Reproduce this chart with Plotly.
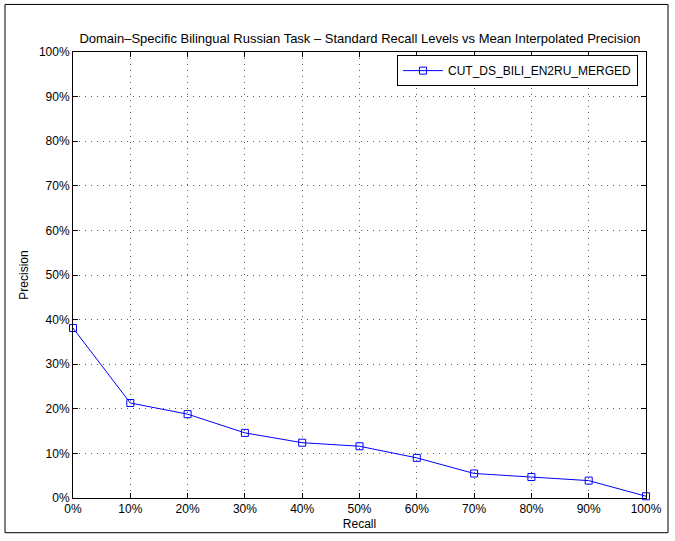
import plotly.graph_objects as go

recall = [0, 10, 20, 30, 40, 50, 60, 70, 80, 90, 100]
precision = [38.1, 21.3, 18.8, 14.6, 12.4, 11.6, 9.0, 5.5, 4.7, 3.9, 0.4]
series_name = "CUT_DS_BILI_EN2RU_MERGED"
tick_vals = [0, 10, 20, 30, 40, 50, 60, 70, 80, 90, 100]
tick_text = [f"{v}%" for v in tick_vals]

fig = go.Figure()

fig.add_trace(
    go.Scatter(
        x=recall,
        y=precision,
        name=series_name,
        mode="lines+markers",
        line=dict(color="#0000ff", width=1),
        marker=dict(symbol="square-open", size=7, color="#0000ff", line=dict(width=1)),
        cliponaxis=False,
    )
)

axis_style = dict(
    range=[0, 100],
    tickvals=tick_vals,
    ticktext=tick_text,
    ticks="inside",
    ticklen=5,
    tickcolor="black",
    showline=True,
    linecolor="black",
    linewidth=1,
    mirror="ticks",
    showgrid=True,
    gridcolor="#606060",
    griddash="1px,5px",
    gridwidth=1,
    zeroline=False,
    tickfont=dict(size=12, color="black"),
    title_font=dict(size=12, color="black"),
)

fig.update_layout(
    width=675,
    height=541,
    margin=dict(l=73, r=29, t=52, b=39),
    paper_bgcolor="white",
    plot_bgcolor="white",
    font=dict(family="Liberation Sans, Arial, sans-serif", size=12, color="black"),
    title=dict(
        text="Domain\u2013Specific Bilingual Russian Task \u2013 Standard Recall Levels vs Mean Interpolated Precision",
        x=360 / 675,
        xanchor="center",
        y=1 - 38 / 541,
        yanchor="middle",
        font=dict(size=13, color="black"),
    ),
    xaxis=dict(axis_style, title=dict(text="Recall", standoff=4)),
    yaxis=dict(axis_style, title=dict(text="Precision", standoff=7)),
    showlegend=True,
    legend=dict(
        x=0.986,
        y=0.993,
        xanchor="right",
        yanchor="top",
        bgcolor="white",
        bordercolor="black",
        borderwidth=1,
        font=dict(size=12, color="black"),
        itemwidth=40,
        tracegroupgap=0,
    ),
    shapes=[
        dict(
            type="rect",
            xref="paper",
            yref="paper",
            x0=(5 - 73) / 573,
            x1=(668 - 73) / 573,
            y0=(502 - 537) / 450,
            y1=(502 - 4) / 450,
            line=dict(color="black", width=1),
            layer="below",
        )
    ],
)

# page body has a default margin; drop it so the figure sits at the top-left corner
fig.write_html(
    "out.html",
    config={"displayModeBar": False},
    post_script="document.body.style.margin='0';",
)
